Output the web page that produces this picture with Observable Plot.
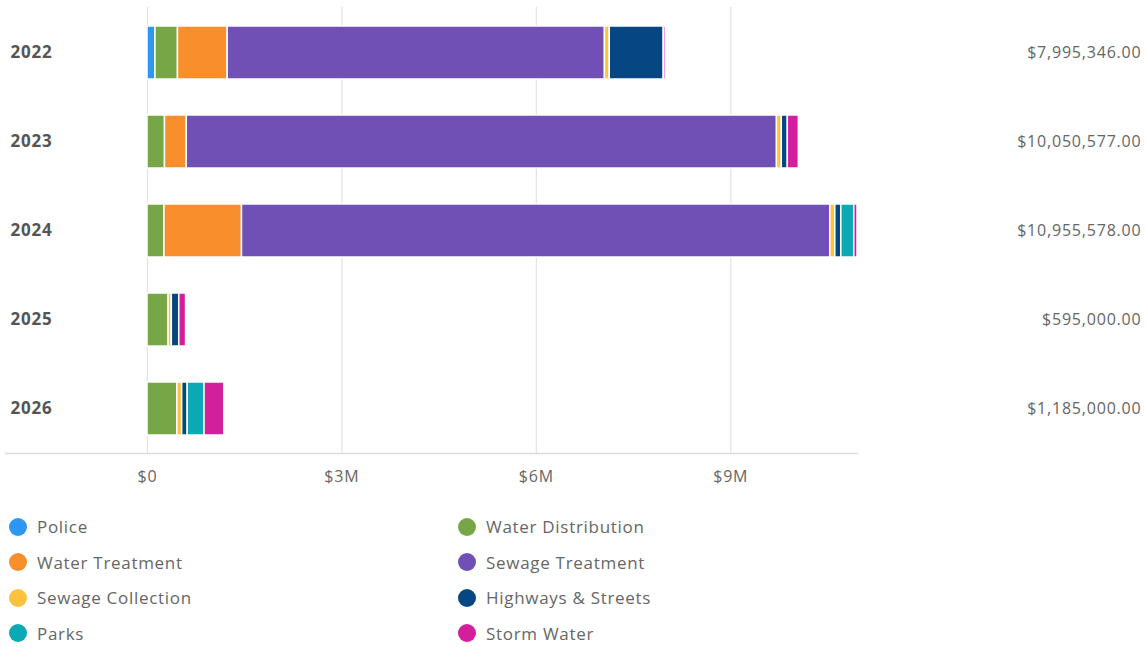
<!DOCTYPE html>
<html>
<head>
<meta charset="utf-8">
<script src="https://cdn.jsdelivr.net/npm/d3@7"></script>
<script src="https://cdn.jsdelivr.net/npm/@observablehq/plot@0.6"></script>
<style>
  body { margin: 0; background: #fff; font-family: "Open Sans", sans-serif; }
  #chart svg { display: block; }
  #legend {
    display: grid;
    grid-template-columns: 449px 449px;
    grid-auto-rows: 35.5px;
    padding-top: 9px;
    padding-left: 9px;
    font-size: 17px;
    letter-spacing: 0.7px;
    color: #666;
  }
  .item { display: flex; align-items: center; }
  .dot { width: 18px; height: 18px; border-radius: 50%; margin-right: 10px; flex: none; }
</style>
</head>
<body>
<div id="chart"></div>
<div id="legend"></div>
<script>
const years = ["2022", "2023", "2024", "2025", "2026"];
const categories = ["Police", "Water Distribution", "Water Treatment", "Sewage Treatment",
                    "Sewage Collection", "Highways & Streets", "Parks", "Storm Water"];
const colors = ["#2e96f3", "#76a645", "#f98e2d", "#7150b6", "#fdc23e", "#064783", "#0aa9b4", "#d41f9d"];

// values per category, one per year (2022..2026)
const police            = [123000, 0, 0, 0, 0];
const waterDistribution = [347000, 270000, 262000, 325000, 460000];
const waterTreatment    = [767000, 336000, 1196000, 0, 0];
const sewageTreatment   = [5821346, 9107000, 9078000, 0, 0];
const sewageCollection  = [74000, 74000, 77000, 50000, 75000];
const highwaysStreets   = [833000, 93000, 93000, 115000, 85000];
const parks             = [0, 0, 200000, 0, 260000];
const stormWater        = [30000, 170577, 49578, 105000, 305000];
const totalLabels = ["$7,995,346.00", "$10,050,577.00", "$10,955,578.00", "$595,000.00", "$1,185,000.00"];
const xTicks = [0, 3000000, 6000000, 9000000];

const series = [police, waterDistribution, waterTreatment, sewageTreatment,
                sewageCollection, highwaysStreets, parks, stormWater];

const table = [];
years.forEach((year, i) => {
  categories.forEach((category, j) => {
    const value = series[j][i];
    if (value > 0) table.push({year, category, value});
  });
});
const sums = years.map((y, i) => d3.sum(series, s => s[i]));

const chart = Plot.plot({
  width: 1146,
  height: 500,
  marginLeft: 5,
  marginRight: 289,
  marginTop: 7,
  marginBottom: 47,
  style: {fontFamily: "'Open Sans', sans-serif", fontSize: "16px", color: "#666", background: "#fff", letterSpacing: "0.8px"},
  x: {domain: [0, d3.max(sums)], range: [147, 857], label: null},
  y: {domain: years, paddingInner: 0.41, paddingOuter: 0.205, axis: null},
  color: {domain: categories, range: colors},
  marks: [
    Plot.gridX(xTicks, {stroke: "#e2e2e2", strokeOpacity: 1, strokeWidth: 1.2}),
    Plot.frame({anchor: "bottom", stroke: "#dcdcdc", strokeWidth: 1.5}),
    Plot.axisX(xTicks, {
      tickSize: 0, tickPadding: 17, fontSize: 16, fill: "#666",
      tickFormat: d => d === 0 ? "$0" : `$${d / 1e6}M`, label: null
    }),
    Plot.barX(table, Plot.stackX({
      x: "value", y: "year", fill: "category",
      stroke: "#fff", strokeWidth: 1.5
    })),
    Plot.text(years, {
      y: d => d, text: d => d, frameAnchor: "left", textAnchor: "start", dx: 5,
      fontWeight: "bold", fill: "#555", fontSize: 17
    }),
    Plot.text(years, {
      y: d => d, text: (d, i) => totalLabels[i], frameAnchor: "right", textAnchor: "end", dx: 284,
      fill: "#666", fontSize: 16
    })
  ]
});
document.getElementById("chart").appendChild(chart);

const legend = document.getElementById("legend");
categories.forEach((c, i) => {
  const item = document.createElement("div");
  item.className = "item";
  const dot = document.createElement("span");
  dot.className = "dot";
  dot.style.background = colors[i];
  const label = document.createElement("span");
  label.textContent = c;
  item.appendChild(dot);
  item.appendChild(label);
  legend.appendChild(item);
});
</script>
</body>
</html>
